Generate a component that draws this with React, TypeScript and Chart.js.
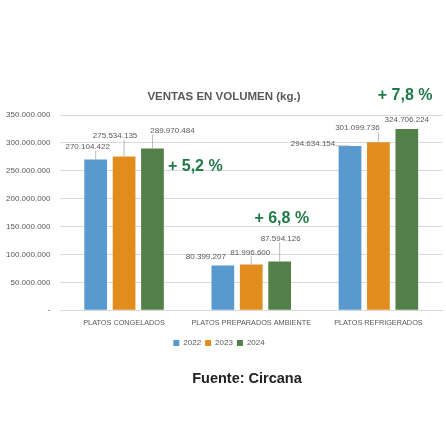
import React, { useEffect, useRef } from "react";
import { Chart, registerables } from "chart.js";

Chart.register(...registerables);

// ---------- data ----------
const categories = ["PLATOS CONGELADOS", "PLATOS PREPARADOS AMBIENTE", "PLATOS REFRIGERADOS"];
const years = ["2022", "2023", "2024"];
const values2022 = [270104422, 80399207, 294634154];
const values2023 = [275534135, 81996600, 301099736];
const values2024 = [289970484, 87594126, 324706224];
const growthLabels = ["+ 5,2 %", "+ 6,8 %", "+ 7,8 %"];
const yMax = 350000000;
const yStep = 50000000;
const chartTitle = "VENTAS EN VOLUMEN (kg.)";
const sourceText = "Fuente: Circana";

// ---------- style ----------
const COLORS = ["#5899CF", "#E28C1E", "#538048"];
const GROWTH_COLOR = "#1F7A47";
const TEXT_GRAY = "#595959";
const GRID = "#D9D9D9";
const FONT = '"Liberation Sans", Arial, sans-serif';
// label offsets (px) relative to each bar's top-centre: [dataset][category]
const LABEL_OFFSETS = [
  [[-8, -13], [-17, -9], [-37, -2]],
  [[-9, -21], [-1, -12], [-21, -14]],
  [[20, -18], [1, -23], [0, -9]],
];
// growth annotation anchor: category offset (category units) and value level
const GROWTH_POS = [
  { dx: 0.56, v: 258000000 },
  { dx: 0.24, v: 165000000 },
  { dx: 0.21, v: 385000000 },
];

const fmt = (n: number) => String(Math.round(n)).replace(/\B(?=(\d{3})+(?!\d))/g, ".");

const labelsPlugin = {
  id: "barLabels",
  afterDatasetsDraw(chart: any) {
    const ctx = chart.ctx;
    ctx.save();
    ctx.font = `8px ${FONT}`;
    ctx.textAlign = "center";
    ctx.textBaseline = "middle";
    chart.data.datasets.forEach((ds: any, i: number) => {
      const meta = chart.getDatasetMeta(i);
      meta.data.forEach((bar: any, j: number) => {
        const [dx, dy] = LABEL_OFFSETS[i][j];
        const text = fmt(ds.data[j]);
        const lx = bar.x + dx;
        const ly = bar.y + dy;
        const w = ctx.measureText(text).width;
        const h = 8;
        const px = Math.max(lx - w / 2, Math.min(bar.x, lx + w / 2));
        const py = Math.max(ly - h / 2, Math.min(bar.y, ly + h / 2));
        if (Math.hypot(px - bar.x, py - bar.y) > 6) {
          ctx.strokeStyle = "#A6A6A6";
          ctx.lineWidth = 0.75;
          ctx.beginPath();
          ctx.moveTo(px, py);
          ctx.lineTo(bar.x, bar.y);
          ctx.stroke();
        }
        ctx.fillStyle = TEXT_GRAY;
        ctx.fillText(text, lx, ly);
      });
    });
    ctx.restore();
  },
};

const extrasPlugin = {
  id: "extras",
  afterDraw(chart: any) {
    const ctx = chart.ctx;
    const xs = chart.scales.x;
    const ys = chart.scales.y;
    ctx.save();
    ctx.textAlign = "center";
    ctx.textBaseline = "middle";
    // title
    ctx.font = `bold 11.5px ${FONT}`;
    ctx.fillStyle = TEXT_GRAY;
    ctx.fillText(chartTitle, 224, 97);
    // growth annotations
    ctx.font = `bold 16px ${FONT}`;
    ctx.fillStyle = GROWTH_COLOR;
    growthLabels.forEach((t, i) => {
      const x = xs.getPixelForValue(i + GROWTH_POS[i].dx);
      const y = ys.getPixelForValue(GROWTH_POS[i].v);
      ctx.fillText(t, x, y);
    });
    // source
    ctx.font = `bold 14.5px ${FONT}`;
    ctx.fillStyle = "#222222";
    ctx.fillText(sourceText, 247, 379);
    ctx.restore();
  },
};

export default function App() {
  const ref = useRef<HTMLCanvasElement>(null);
  useEffect(() => {
    if (!ref.current) return;
    const series = [values2022, values2023, values2024];
    const chart = new Chart(ref.current, {
      type: "bar",
      data: {
        labels: categories,
        datasets: years.map((y, i) => ({
          label: y,
          data: series[i],
          backgroundColor: COLORS[i],
          barPercentage: 0.8,
          categoryPercentage: 0.67,
        })),
      },
      options: {
        animation: false,
        responsive: false,
        maintainAspectRatio: false,
        layout: { padding: { top: 115, left: -4, right: 4, bottom: 89 } },
        plugins: {
          title: { display: false },
          tooltip: { enabled: false },
          legend: {
            position: "bottom",
            labels: {
              boxWidth: 6,
              boxHeight: 6,
              padding: 4,
              color: TEXT_GRAY,
              font: { size: 8, family: FONT },
            },
          },
        },
        scales: {
          x: {
            grid: { display: false, drawTicks: false },
            border: { display: true, color: GRID, width: 1 },
            ticks: {
              color: TEXT_GRAY,
              font: { size: 7.3, family: FONT },
              padding: 8,
              maxRotation: 0,
              autoSkip: false,
            },
          },
          y: {
            min: 0,
            max: yMax,
            grid: { color: GRID, drawTicks: false },
            border: { display: false },
            ticks: {
              stepSize: yStep,
              padding: 10,
              color: TEXT_GRAY,
              font: { size: 8, family: FONT },
              callback: (v: any) => (Number(v) === 0 ? "-" : fmt(Number(v))),
            },
          },
        },
      },
      plugins: [labelsPlugin, extrasPlugin],
    });
    return () => chart.destroy();
  }, []);
  return (
    <div style={{ position: "fixed", left: 0, top: 0, width: 446, height: 446, background: "#fff" }}>
      <canvas ref={ref} width={446} height={446} style={{ width: 446, height: 446 }} />
    </div>
  );
}
